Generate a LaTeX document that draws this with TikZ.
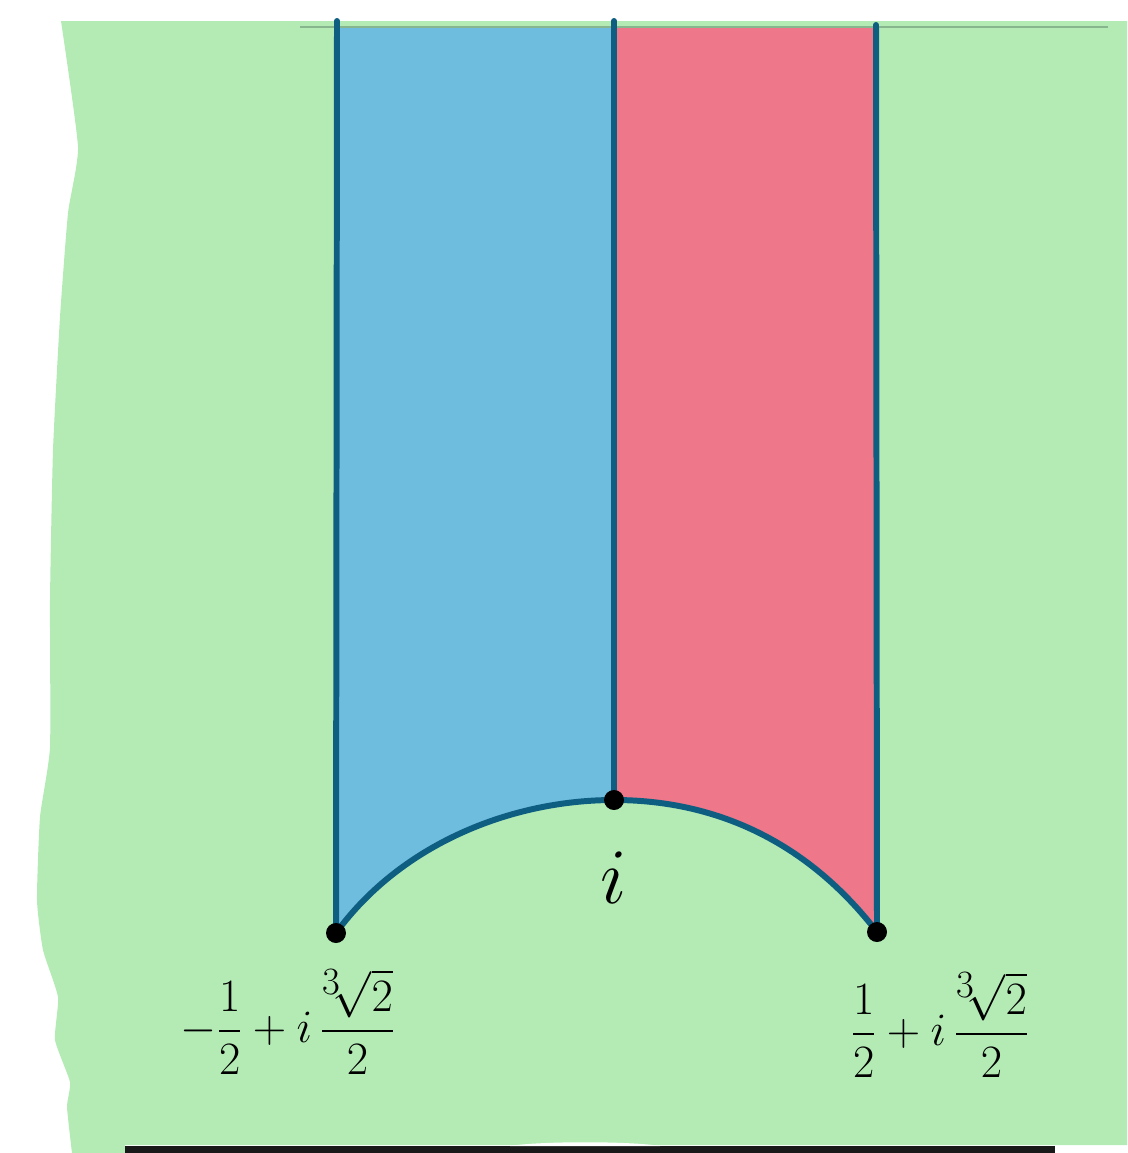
\documentclass[tikz,border=0pt]{standalone}
\usepackage{amsmath}
\usetikzlibrary{positioning}
\definecolor{sheetgreen}{RGB}{180,235,181}
\definecolor{stripblue}{RGB}{110,188,222}
\definecolor{stripred}{RGB}{238,119,138}
\definecolor{edgeteal}{RGB}{14,94,130}
\definecolor{rulegray}{RGB}{134,181,142}

\begin{document}
\begin{tikzpicture}[x=0.02cm, y=-0.02cm,
  dot/.style={circle, fill=black, inner sep=0pt, minimum size=0.4cm},
  edge/.style={edgeteal, line width=3.4pt, line cap=round},
  lbl/.style={font=\Huge}]
  \useasboundingbox (0,0) rectangle (1127,1153);

  % the green sheet
  \fill[sheetgreen] (1127,21) -- (1127,1145) -- (125,1145) -- (125,1153)
    -- plot[smooth, tension=0.3] coordinates {(72,1153) (67,1107) (70,1082) (55,1040) (58,997) (43,950)
       (37,900) (40,817) (50,747) (50,600) (53,450) (60,317) (68,213) (78,147) (61,21)} -- cycle;
  \draw[rulegray, line width=1.1pt] (300,27) -- (1108,27);

  \coordinate (topL) at (337,21);
  \coordinate (topM) at (614,21);
  \coordinate (topR) at (876,25);
  \coordinate (pL) at (336,933);
  \coordinate (pI) at (614,800);
  \coordinate (pR) at (877,932);

  \fill[stripblue] (337,28) -- (614,28) -- (pI) .. controls (510,800) and (400,845) .. (pL) -- cycle;
  \fill[stripred] (614,28) -- (876,28) -- (pR) .. controls (810,845) and (720,800) .. (pI) -- cycle;

  \foreach \a/\b in {topL/pL, topM/pI, topR/pR} {
    \draw[edge] (\a) -- (\b);
  }
  \draw[edge] (pL) .. controls (400,845) and (510,800) .. (pI)
              .. controls (720,800) and (810,845) .. (pR);

  \node[dot] (dotL) at (pL) {};
  \node[dot] (dotI) at (pI) {};
  \node[dot] (dotR) at (pR) {};

  \node[lbl] (labI) at (614,878) {\scalebox{1.8}{$i$}};
  \node[lbl] (labL) at (288,1022) {\scalebox{1.06}{$-\dfrac{1}{2}+i\,\dfrac{{}^{3}\!\sqrt{2}}{2}$}};
  \node[lbl] (labR) at (940,1025) {\scalebox{1.06}{$\dfrac{1}{2}+i\,\dfrac{{}^{3}\!\sqrt{2}}{2}$}};

  % bar along the bottom
  \fill[black!90] (125,1146) rectangle (1055,1153);
  \fill[white] (510,1146) .. controls (540,1141) and (630,1141) .. (660,1146) -- cycle;
\end{tikzpicture}
\end{document}
